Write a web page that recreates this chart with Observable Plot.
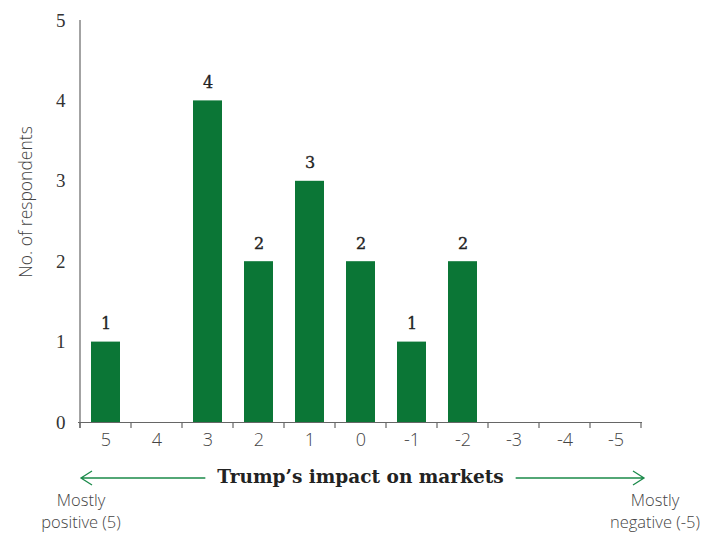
<!DOCTYPE html>
<html>
<head>
<meta charset="utf-8">
<script src="https://cdn.jsdelivr.net/npm/d3@7"></script>
<script src="https://cdn.jsdelivr.net/npm/@observablehq/plot@0.6"></script>
<style>
  html, body { margin: 0; padding: 0; background: #fff; }
</style>
</head>
<body>
<div id="chart"></div>
<script>
const categories = ["5", "4", "3", "2", "1", "0", "-1", "-2", "-3", "-4", "-5"];
const respondents = [1, 0, 4, 2, 3, 2, 1, 2, 0, 0, 0];
const yTicks = [0, 1, 2, 3, 4, 5];
const yLabel = "No. of respondents";
const xLabel = "Trump’s impact on markets";
const leftNote = ["Mostly", "positive (5)"];
const rightNote = ["Mostly", "negative (-5)"];

const data = categories.map((c, i) => ({cat: c, n: respondents[i]}));
const green = "#0b7636";
const serif = "'DejaVu Serif', serif";
const tickSerif = "'Liberation Serif', serif";
const sans = "'Open Sans', sans-serif";

const plot = Plot.plot({
  width: 710,
  height: 535,
  marginLeft: 78,
  marginRight: 68,
  marginTop: 20,
  marginBottom: 113,
  x: {domain: categories, paddingInner: 0.434, paddingOuter: 0.217},
  y: {domain: [0, 5]},
  marks: [
    Plot.barY(data, {x: "cat", y: "n", fill: green}),
    Plot.text(data.filter(d => d.n > 0), {x: "cat", y: "n", text: d => String(d.n), dy: -18, fill: "#222", stroke: "#222", strokeWidth: 0.35, fontSize: 16, fontFamily: serif}),
    Plot.ruleY([0], {stroke: "#666", strokeWidth: 1.2}),
    Plot.axisY({ticks: yTicks, tickSize: 0, tickPadding: 13, label: null, tickFormat: d => String(d)}),
    Plot.axisX({tickSize: 0, tickPadding: 11, label: null})
  ]
});

document.getElementById("chart").appendChild(plot);

const svg = d3.select(plot);
svg.selectAll("[aria-label='y-axis tick label']")
  .style("font-family", tickSerif).style("font-size", "19px").attr("fill", "#333");
svg.selectAll("[aria-label='x-axis tick label']")
  .style("font-family", sans).style("font-size", "18px").style("font-weight", 300).attr("fill", "#444");

const xs = plot.scale("x");
const ys = plot.scale("y");
const step = xs.step, bw = xs.bandwidth;
const boundaries = categories.map(c => xs.apply(c) - (step - bw) / 2);
boundaries.push(boundaries[boundaries.length - 1] + step);
const x0 = boundaries[0], x1 = boundaries[boundaries.length - 1];
const y0 = ys.apply(0), yTop = ys.apply(5);

const g = svg.append("g");
g.append("line").attr("x1", x0).attr("x2", x0).attr("y1", yTop).attr("y2", y0 + 6)
  .attr("stroke", "#666").attr("stroke-width", 1.2);
boundaries.forEach(b => {
  g.append("line").attr("x1", b).attr("x2", b).attr("y1", y0).attr("y2", y0 + 6)
    .attr("stroke", "#666").attr("stroke-width", 1.2);
});

g.append("text").attr("transform", `translate(${x0 - 53},${(yTop + y0) / 2 - 19}) rotate(-90)`)
  .attr("text-anchor", "middle").attr("dominant-baseline", "middle")
  .style("font-family", sans).style("font-weight", 300).style("font-size", "17.5px").attr("fill", "#444")
  .text(yLabel);

const midX = (x0 + x1) / 2;
const titleY = y0 + 56;
const title = g.append("text").attr("x", midX).attr("y", titleY)
  .attr("text-anchor", "middle").attr("dominant-baseline", "middle")
  .style("font-family", serif).style("font-weight", "bold").style("font-size", "18.5px").attr("fill", "#222")
  .text(xLabel);
const tw = title.node().getComputedTextLength();
const arrowColor = "#1b8a4a";
const aL = midX - tw / 2 - 12, aR = midX + tw / 2 + 12;
g.append("path").attr("d", `M${aL},${titleY} L${x0 + 1},${titleY} M${x0 + 12},${titleY - 7} L${x0 + 1},${titleY} L${x0 + 12},${titleY + 7}`)
  .attr("fill", "none").attr("stroke", arrowColor).attr("stroke-width", 1.3);
g.append("path").attr("d", `M${aR},${titleY} L${x1 + 3},${titleY} M${x1 - 8},${titleY - 7} L${x1 + 3},${titleY} L${x1 - 8},${titleY + 7}`)
  .attr("fill", "none").attr("stroke", arrowColor).attr("stroke-width", 1.3);

function note(lines, cx) {
  lines.forEach((t, i) => {
    g.append("text").attr("x", cx).attr("y", titleY + 24 + i * 22)
      .attr("text-anchor", "middle").attr("dominant-baseline", "middle")
      .style("font-family", sans).style("font-weight", 300).style("font-size", "16.5px").attr("fill", "#444")
      .text(t);
  });
}
note(leftNote, x0 + 1);
note(rightNote, x1 + 14);
</script>
</body>
</html>
